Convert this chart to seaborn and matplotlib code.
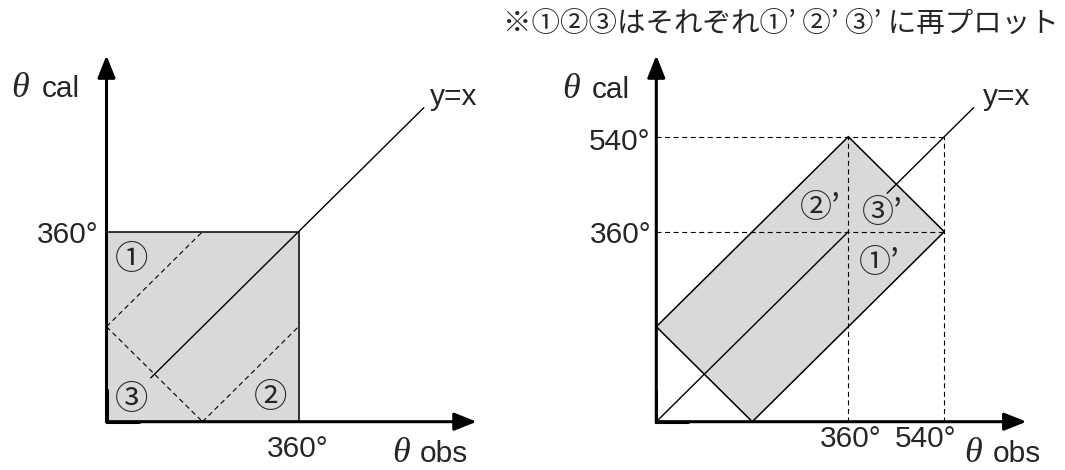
import matplotlib
matplotlib.use("Agg")
import matplotlib.pyplot as plt
import seaborn as sns
import pandas as pd

# ---------------- data (degrees) ----------------
tick_labels = ["360°", "540°"]
guide_vals = [360, 540]

square_x = [0, 360, 360, 0]
square_y = [0, 0, 360, 360]
dash1_x, dash1_y = [0, 180], [180, 360]
dash2_x, dash2_y = [0, 180], [180, 0]
dash3_x, dash3_y = [180, 360], [0, 180]
yx_left = [83, 595]

rect_x = [0, 360, 540, 180]
rect_y = [180, 540, 360, 0]
diag_right = [0, 360]
yx_right = [433, 595]

axis_end = 694

title_text = "※①②③はそれぞれ①’ ②’ ③’ に再プロット"
left_labels = ["①", "②", "③"]
right_labels = ["①’", "②’", "③’"]

# ---------------- layout ----------------
sns.set_theme(style="white")
plt.rcParams["font.family"] = ["Liberation Sans", "Noto Sans CJK JP", "DejaVu Sans"]

W, H = 1065, 470
fig = plt.figure(figsize=(W / 100, H / 100), dpi=100)
SX, SY = 192 / 360, 190 / 360
OY = 421.7
OXL, OXR = 106.5, 656.3
GRAY = "#d9d9d9"
LBL = 21.5


def make_ax(x0, x1, ox):
    ax = fig.add_axes([x0 / W, 0, (x1 - x0) / W, 1])
    ax.set_xlim((x0 - ox) / SX, (x1 - ox) / SX)
    ax.set_ylim((OY - H) / SY, OY / SY)
    ax.set_axis_off()
    return ax


def P(px, py):
    return px / W, 1 - py / H


def ftext(px, py, s, **kw):
    fig.text(*P(px, py), s, transform=fig.transFigure, **kw)


def draw_axes(ax):
    for xy in [(axis_end, 0), (0, axis_end)]:
        ax.annotate("", xy=xy, xytext=(0, 0),
                    arrowprops=dict(arrowstyle="-|>,head_length=0.9,head_width=0.36",
                                    lw=2.2, color="black", shrinkA=0, shrinkB=0,
                                    mutation_scale=15), zorder=10)
    ax.plot([0, 0, 60], [60, 0, 0], color="black", lw=2.2,
            solid_joinstyle="miter", zorder=10)


def seg(ax, xs, ys, dashed=False, lw=1.0):
    df = pd.DataFrame({"x": xs, "y": ys})
    sns.lineplot(data=df, x="x", y="y", sort=False, estimator=None, ax=ax,
                 color="black", lw=lw,
                 linestyle=(0, (4.5, 3.2)) if dashed else "-", zorder=5)


# ---------------- left panel ----------------
axL = make_ax(0, 532, OXL)
axL.fill(square_x, square_y, facecolor=GRAY, edgecolor="black", lw=1.1, zorder=2)
seg(axL, dash1_x, dash1_y, dashed=True, lw=0.8)
seg(axL, dash2_x, dash2_y, dashed=True, lw=0.8)
seg(axL, dash3_x, dash3_y, dashed=True, lw=0.8)
seg(axL, yx_left, yx_left, lw=1.0)
draw_axes(axL)
axL.set_xlabel("")
axL.set_ylabel("")

# ---------------- right panel ----------------
axR = make_ax(532, 1065, OXR)
axR.fill(rect_x, rect_y, facecolor=GRAY, edgecolor="black", lw=1.1, zorder=2)
for g in guide_vals:
    seg(axR, [0, guide_vals[1]], [g, g], dashed=True, lw=0.8)
    seg(axR, [g, g], [0, guide_vals[1]], dashed=True, lw=0.8)
seg(axR, diag_right, diag_right, lw=1.0)
seg(axR, yx_right, yx_right, lw=1.0)
draw_axes(axR)
axR.set_xlabel("")
axR.set_ylabel("")

# ---------------- texts ----------------
th = dict(family=["Liberation Serif", "DejaVu Serif"], style="italic", fontsize=26,
          va="baseline", ha="left")
tx = dict(fontsize=LBL, va="baseline")

# left
ftext(11, 97, "θ", **th)
ftext(42, 97, "cal", ha="left", **tx)
ftext(98, 243, tick_labels[0], ha="right", **tx)
ftext(267, 457, tick_labels[0], ha="left", **tx)
ftext(392, 462, "θ", **th)
ftext(420, 462, "obs", ha="left", **tx)
ftext(430, 105, "y=x", ha="left", **tx)

circ = dict(family=["Noto Sans CJK JP"], fontsize=24, va="center", ha="center")
ftext(132, 260, left_labels[0], **circ)
ftext(271, 397, left_labels[1], **circ)
ftext(132, 400, left_labels[2], **circ)

# right
ftext(562, 98, "θ", **th)
ftext(592, 98, "cal", ha="left", **tx)
ftext(650, 150, tick_labels[1], ha="right", **tx)
ftext(651, 243, tick_labels[0], ha="right", **tx)
ftext(820, 447, tick_labels[0], ha="left", **tx)
ftext(895, 447, tick_labels[1], ha="left", **tx)
ftext(964, 462, "θ", **th)
ftext(993, 462, "obs", ha="left", **tx)
ftext(983, 105, "y=x", ha="left", **tx)

circR = dict(family=["Noto Sans CJK JP"], fontsize=23, va="center", ha="left")
ftext(859, 263, right_labels[0], **circR)
ftext(800, 208, right_labels[1], **circR)
ftext(862, 213, right_labels[2], **circR)

ftext(503, 24, title_text, family=["Noto Sans CJK JP"], fontsize=20.5,
      va="center", ha="left")

fig.savefig("out.png", dpi=100)
